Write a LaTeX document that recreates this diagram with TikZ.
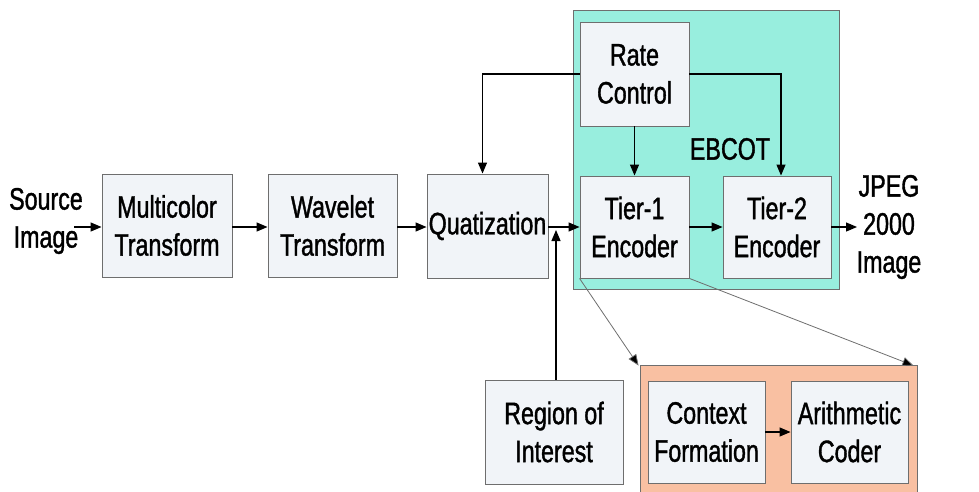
\documentclass[tikz,border=0pt]{standalone}
\usepackage{fontspec}
\setmainfont{Liberation Sans}[FakeStretch=0.75,FakeBold=1.2]
\usetikzlibrary{arrows.meta}
\definecolor{boxfill}{RGB}{241,244,248}
\definecolor{tealbg}{RGB}{152,238,222}
\definecolor{orangebg}{RGB}{249,192,162}
\definecolor{edgegray}{RGB}{110,110,110}
\tikzset{
  blk/.style={draw=edgegray, line width=0.9pt, fill=boxfill, inner sep=0pt, align=center,
    font=\fontsize{31}{38}\selectfont},
  lbl/.style={inner sep=0pt, align=center, font=\fontsize{31}{38}\selectfont},
  arr/.style={line width=1.2pt, -{Triangle[length=11pt,width=9pt]}},
  thinarr/.style={line width=0.8pt, draw=edgegray, -{Triangle[length=11pt,width=9pt,fill=black]}},
}
\begin{document}
\begin{tikzpicture}[x=1pt,y=-1pt]
\useasboundingbox (0,0) rectangle (979,492);
% backgrounds
\node[draw=edgegray, line width=0.9pt, fill=tealbg, minimum width=266pt, minimum height=279pt, inner sep=0pt] (ebcot) at (706,149.5) {};
\node[draw=edgegray, line width=0.9pt, fill=orangebg, minimum width=277pt, minimum height=135pt, inner sep=0pt] (acbox) at (778.5,432.5) {};
% blocks
\node[blk, minimum width=130pt, minimum height=103pt] (mc) at (167,225.5) {Multicolor\\Transform};
\node[blk, minimum width=129pt, minimum height=103pt] (wt) at (332.5,225.5) {Wavelet\\Transform};
\node[blk, minimum width=121pt, minimum height=104pt] (quat) at (487.5,226) {Quatization};
\node[blk, minimum width=109pt, minimum height=104pt] (rc) at (634.5,74) {Rate\\Control};
\node[blk, minimum width=109pt, minimum height=102pt] (t1) at (634.5,227) {Tier-1\\Encoder};
\node[blk, minimum width=108pt, minimum height=102pt] (t2) at (777,227) {Tier-2\\Encoder};
\node[blk, minimum width=138pt, minimum height=104pt] (roi) at (554,432) {Region of\\Interest};
\node[blk, minimum width=117pt, minimum height=102pt] (cf) at (706.5,432) {Context\\Formation};
\node[blk, minimum width=117pt, minimum height=102pt] (ac) at (849.5,432) {Arithmetic\\Coder};
% labels
\node[lbl] (src) at (46,221) {Source\\Image};
\node[lbl] (out) at (889,227) {JPEG\\2000\\Image};
\node[lbl] (eb) at (730,149) {EBCOT};
\coordinate (srcend) at (74,227);
\coordinate (outend) at (857,227);
\coordinate (join) at (556,230);
% connectors
\draw[arr] (srcend) -- (srcend -| mc.west);
\draw[arr] (mc.east |- 0,227) -- (wt.west |- 0,227);
\draw[arr] (wt.east |- 0,227) -- (quat.west |- 0,227);
\draw[arr] (quat.east |- 0,227) -- (t1.west |- 0,227);
\draw[arr] (roi.north -| join) -- (join);
\draw[arr] (t1.east) -- (t2.west);
\draw[arr] (t2.east) -- (outend);
\draw[arr] (rc.south) -- (t1.north);
\draw[arr] (rc.west) -| ([xshift=-5pt]quat.north);
\draw[arr] (rc.east) -| ([xshift=4pt]t2.north);
\draw[arr] (cf.east) -- (ac.west);
\draw[thinarr] (t1.south west) -- ([xshift=-1pt,yshift=-1pt]acbox.north west);
\draw[thinarr] (t1.south east) -- ([xshift=-4pt,yshift=-1pt]acbox.north east);
\end{tikzpicture}
\end{document}
